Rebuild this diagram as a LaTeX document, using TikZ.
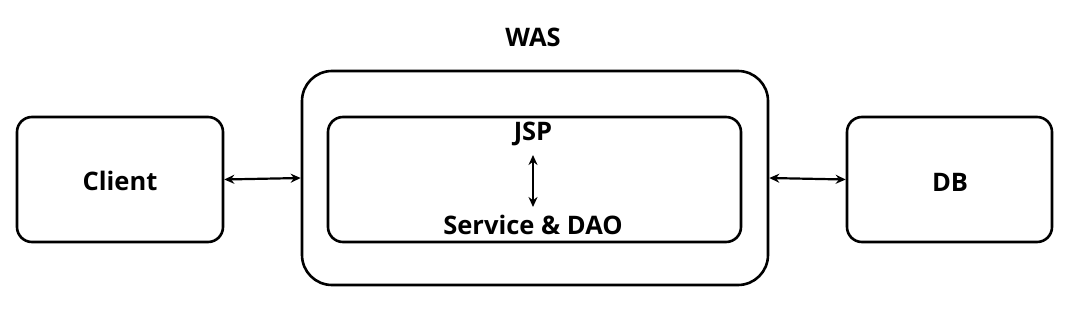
\documentclass[tikz,border=0pt]{standalone}
\usepackage{fontspec}
\setmainfont{Open Sans}
\usetikzlibrary{arrows.meta}
\begin{document}
\begin{tikzpicture}[x=1pt,y=-1pt,
  box/.style={draw=black,line width=2.6pt,rounded corners=15pt,inner sep=0pt},
  lbl/.style={font=\fontsize{25.5}{28}\selectfont\bfseries,inner sep=0pt},
  link/.style={line width=2.2pt,{Stealth[length=10pt,width=9pt]}-{Stealth[length=10pt,width=9pt]}}]
\useasboundingbox (0,0) rectangle (1074,329);
\node[box,minimum width=206pt,minimum height=125pt] (client) at (120,179.5) {};
\node[box,rounded corners=30pt,minimum width=466pt,minimum height=214pt] (was) at (535,178) {};
\node[box,minimum width=413pt,minimum height=125pt] (inner) at (534.5,179.5) {};
\node[box,minimum width=205pt,minimum height=125pt] (db) at (949.5,179.5) {};
\node[lbl] (waslbl) at (533,37) {WAS};
\node[lbl] (clientlbl) at (120,181) {Client};
\node[lbl] (dblbl) at (950,182) {DB};
\node[lbl] (jsp) at (533,134) {JSP};
\node[lbl] (svc) at (533,225) {Service \& DAO};
\draw[link] (client.east) -- (was.west);
\draw[link] (was.east) -- (db.west);
\draw[link] ([yshift=-21pt]jsp.center) -- ([yshift=18pt]svc.center);
\end{tikzpicture}
\end{document}
